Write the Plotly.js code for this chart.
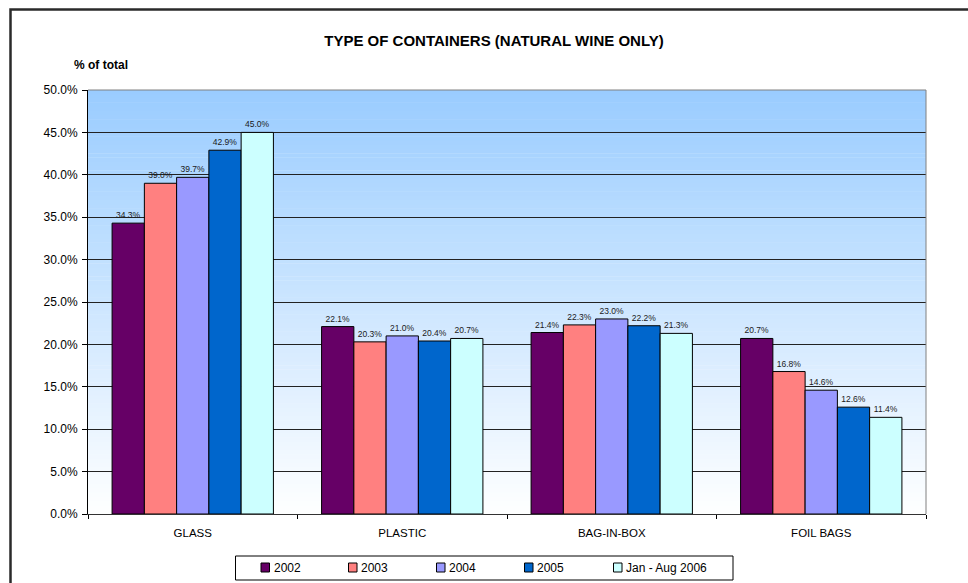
<!DOCTYPE html>
<html>
<head>
<meta charset="utf-8">
<script src="https://cdn.plot.ly/plotly-3.0.1.min.js"></script>
<style>
  html, body { margin: 0; padding: 0; background: #fff; }
  #chart { width: 968px; height: 583px; }
</style>
</head>
<body>
<div id="chart"></div>
<script>
const categories = ["GLASS", "PLASTIC", "BAG-IN-BOX", "FOIL BAGS"];
const seriesNames = ["2002", "2003", "2004", "2005", "Jan - Aug 2006"];
const values2002 = [34.3, 22.1, 21.4, 20.7];
const values2003 = [39.0, 20.3, 22.3, 16.8];
const values2004 = [39.7, 21.0, 23.0, 14.6];
const values2005 = [42.9, 20.4, 22.2, 12.6];
const values2006 = [45.0, 20.7, 21.3, 11.4];
const seriesColors = ["#660066", "#FF8080", "#9999FF", "#0066CC", "#CCFFFF"];
const yTickVals = [0, 5, 10, 15, 20, 25, 30, 35, 40, 45, 50];

const allValues = [values2002, values2003, values2004, values2005, values2006];
const FONT = "Liberation Sans, Arial, sans-serif";

// plot area geometry in pixels (layout only)
const PL = 88, PR = 926, PT = 90, PB = 514;
const px = x => (x - PL) / (PR - PL);
const py = y => (PB - y) / (PB - PT);

const traces = allValues.map((vals, i) => ({
  type: "bar",
  name: seriesNames[i],
  x: categories,
  y: vals,
  text: vals.map(v => v.toFixed(1) + "%"),
  textposition: "outside",
  cliponaxis: false,
  textfont: { family: FONT, size: 8.5, color: "#1a1a1a" },
  marker: { color: seriesColors[i], line: { color: "#000", width: 1 } },
  showlegend: false,
  hoverinfo: "x+y+name"
}));

// gradient background strips (style only)
const shapes = [];
const N = 100;
const gradTop = [153, 204, 255], gradBot = [255, 255, 255];
for (let k = 0; k < N; k++) {
  const t = (k + 0.5) / N; // 0 bottom -> 1 top
  const c = gradTop.map((tv, j) => Math.round(gradBot[j] + (tv - gradBot[j]) * t));
  shapes.push({
    type: "rect", xref: "paper", yref: "y", layer: "below",
    x0: 0, x1: 1, y0: 50 * k / N, y1: 50 * (k + 1) / N + 0.05,
    fillcolor: `rgb(${c[0]},${c[1]},${c[2]})`, line: { width: 0 }
  });
}
// plot-area border (top and right, gray)
shapes.push({ type: "line", xref: "paper", yref: "paper", x0: 0, x1: 1, y0: 1, y1: 1, line: { color: "#808080", width: 1 } });
shapes.push({ type: "line", xref: "paper", yref: "paper", x0: 1, x1: 1, y0: 0, y1: 1, line: { color: "#808080", width: 1 } });
// outer chart frame (top and left visible)
shapes.push({ type: "rect", xref: "paper", yref: "paper",
  x0: px(10.5), x1: 2, y0: py(9.5), y1: -2,
  line: { color: "#2a2a2a", width: 2.5 }, fillcolor: "rgba(0,0,0,0)" });

// custom legend (box, swatches, labels) built from series names/colours
const annotations = [{
  text: "<b>% of total</b>", xref: "paper", yref: "paper",
  x: px(72), y: py(65), xanchor: "left", yanchor: "middle",
  showarrow: false, font: { family: FONT, size: 12, color: "#000" }
}];
shapes.push({ type: "rect", xref: "paper", yref: "paper",
  x0: px(235.5), x1: px(733), y0: py(556), y1: py(580),
  line: { color: "#000", width: 1 }, fillcolor: "#fff" });
const legendStarts = [261, 348.5, 436.5, 524.5, 613.5];
seriesNames.forEach((name, i) => {
  const x0 = legendStarts[i];
  shapes.push({ type: "rect", xref: "paper", yref: "paper",
    x0: px(x0), x1: px(x0 + 8.5), y0: py(563), y1: py(572),
    line: { color: "#000", width: 1 }, fillcolor: seriesColors[i] });
  annotations.push({
    text: name, xref: "paper", yref: "paper",
    x: px(x0 + 10.5), y: py(567.5), xanchor: "left", yanchor: "middle",
    showarrow: false, font: { family: FONT, size: 12, color: "#000" }
  });
});

const layout = {
  width: 968, height: 583,
  margin: { l: PL, r: 968 - PR, t: PT, b: 583 - PB },
  paper_bgcolor: "#fff",
  plot_bgcolor: "rgba(0,0,0,0)",
  font: { family: FONT, size: 11, color: "#000" },
  title: {
    text: "<b>TYPE OF CONTAINERS (NATURAL WINE ONLY)</b>",
    font: { family: FONT, size: 15, color: "#000" },
    xref: "container", x: 494 / 968, xanchor: "center",
    yref: "container", y: 1 - 41 / 583, yanchor: "middle"
  },
  barmode: "group",
  bargap: 0.23,
  bargroupgap: 0,
  xaxis: {
    type: "category",
    showgrid: false,
    showline: true, linecolor: "#333", linewidth: 1,
    ticks: "outside", tickson: "boundaries", ticklen: 4, tickcolor: "#000",
    ticklabelstandoff: 8,
    tickfont: { family: FONT, size: 11.5, color: "#000" },
    fixedrange: true
  },
  yaxis: {
    range: [0, 50],
    tickvals: yTickVals,
    ticktext: yTickVals.map(v => v.toFixed(1) + "%"),
    showgrid: true, gridcolor: "#222", gridwidth: 1,
    zeroline: false,
    showline: true, linecolor: "#000", linewidth: 1,
    ticks: "outside", ticklen: 5, tickcolor: "#000",
    ticklabelstandoff: 2,
    tickfont: { family: FONT, size: 12, color: "#000" },
    fixedrange: true
  },
  shapes: shapes,
  annotations: annotations,
  showlegend: false
};

Plotly.newPlot("chart", traces, layout, { displayModeBar: false, staticPlot: true });
</script>
</body>
</html>
